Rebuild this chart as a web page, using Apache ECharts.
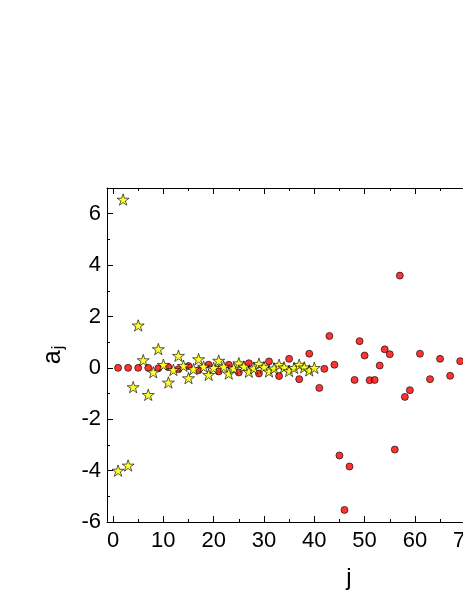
<!DOCTYPE html>
<html>
<head>
<meta charset="utf-8">
<script src="https://cdn.jsdelivr.net/npm/echarts@6/dist/echarts.min.js"></script>
<style>
  html, body { margin: 0; padding: 0; background: #fff; }
  #chart { width: 463px; height: 599px; }
</style>
</head>
<body>
<div id="chart"></div>
<script>
// red circles
var circleJ = [1, 3, 5, 7, 9, 11, 13, 15, 17, 19, 21, 23, 25, 27, 29, 31, 33, 35, 37, 39,
  41, 42, 43, 44, 45, 46, 47, 48, 49, 50, 51, 52, 53, 54, 55, 56, 57, 58, 59,
  61, 63, 65, 67, 69];
var circleA = [0, 0, 0, 0, -0.02, 0.03, -0.05, 0.07, -0.09, 0.12, -0.14, 0.12, -0.18, 0.18, -0.22, 0.25, -0.32, 0.35, -0.44, 0.55,
  -0.78, -0.04, 1.24, 0.12, -3.41, -5.53, -3.84, -0.47, 1.04, 0.48, -0.48, -0.47, 0.09, 0.72, 0.53, -3.18, 3.59, -1.13, -0.87,
  0.55, -0.44, 0.35, -0.31, 0.26];

// yellow stars
var starJ = [1, 2, 3, 4, 5, 6, 7, 8, 9, 10, 11, 12, 13, 14, 15, 16, 17, 18, 19, 20,
  21, 22, 23, 24, 25, 26, 27, 28, 29, 30, 31, 32, 33, 34, 35, 36, 37, 38, 39, 40];
var starA = [-4.0, 6.55, -3.8, -0.75, 1.65, 0.3, -1.05, -0.17, 0.73, 0.12, -0.57, -0.08, 0.47, 0.08, -0.4, -0.05, 0.34, 0.05, -0.27, 0.0,
  0.28, 0.05, -0.22, -0.02, 0.18, 0.05, -0.15, -0.02, 0.16, 0.03, -0.14, -0.02, 0.12, 0.02, -0.12, 0.0, 0.12, 0.02, -0.1, 0.0];

var yTicks = [-6, -4, -2, 0, 2, 4, 6];

function pairs(xs, ys) {
  var out = [];
  for (var i = 0; i < xs.length; i++) {
    out.push([xs[i], ys[i]]);
  }
  return out;
}

var starPath = "path://M50 0 L61.23 34.55 L97.55 34.55 L68.17 55.9 L79.39 90.45 L50 69.1 L20.61 90.45 L31.83 55.9 L2.45 34.55 L38.77 34.55 Z";
var font = "Liberation Sans";

var xBase = {
  type: "value",
  min: -1.2,
  max: 95,
  splitNumber: 10,
  axisLine: { show: true, onZero: false, lineStyle: { color: "#000", width: 1 } },
  axisTick: { show: true, inside: true, length: 6, lineStyle: { color: "#000" } },
  minorTick: { show: true, splitNumber: 2, length: 3, lineStyle: { color: "#000" } },
  splitLine: { show: false }
};

var myChart = echarts.init(document.getElementById("chart"));
var option = {
  animation: false,
  backgroundColor: "#fff",
  grid: {
    left: 107,
    top: 188,
    width: 484,
    height: 334,
    containLabel: false,
    outerBoundsMode: "none"
  },
  xAxis: [
    Object.assign({}, xBase, {
      position: "bottom",
      name: "j",
      nameLocation: "middle",
      nameGap: 44,
      nameTextStyle: { fontFamily: font, fontSize: 24, color: "#000" },
      axisLabel: {
        showMinLabel: false,
        margin: 8,
        fontFamily: font,
        fontSize: 22,
        color: "#000"
      }
    }),
    Object.assign({}, xBase, {
      position: "top",
      axisLabel: { show: false }
    })
  ],
  yAxis: {
    type: "value",
    min: -6,
    max: 7,
    interval: 2,
    name: "{a|a}{s|j}",
    nameLocation: "middle",
    nameRotate: 90,
    nameGap: 40,
    nameTextStyle: {
      rich: {
        a: { fontFamily: font, fontSize: 25, color: "#000" },
        s: { fontFamily: font, fontSize: 16, color: "#000", verticalAlign: "bottom", padding: [12, 0, 0, 1] }
      }
    },
    axisLine: { show: true, onZero: false, lineStyle: { color: "#000", width: 1 } },
    axisTick: { show: true, inside: true, length: 6, lineStyle: { color: "#000" } },
    minorTick: { show: true, splitNumber: 2, length: 3, lineStyle: { color: "#000" } },
    splitLine: { show: false },
    axisLabel: {
      showMaxLabel: false,
      margin: 6,
      fontFamily: font,
      fontSize: 22,
      color: "#000",
      formatter: function (v) {
        return yTicks.indexOf(v) >= 0 ? String(v) : "";
      }
    }
  },
  series: [
    {
      name: "circles",
      type: "scatter",
      data: pairs(circleJ, circleA),
      symbol: "circle",
      symbolSize: 7,
      itemStyle: { color: "#ff0000", borderColor: "#000", borderWidth: 0.8 },
      z: 2
    },
    {
      name: "stars",
      type: "scatter",
      data: pairs(starJ, starA),
      symbol: starPath,
      symbolKeepAspect: true,
      symbolSize: 12,
      itemStyle: { color: "#ffff00", borderColor: "#000", borderWidth: 0.8 },
      z: 3
    }
  ]
};
myChart.setOption(option, true);
</script>
</body>
</html>
